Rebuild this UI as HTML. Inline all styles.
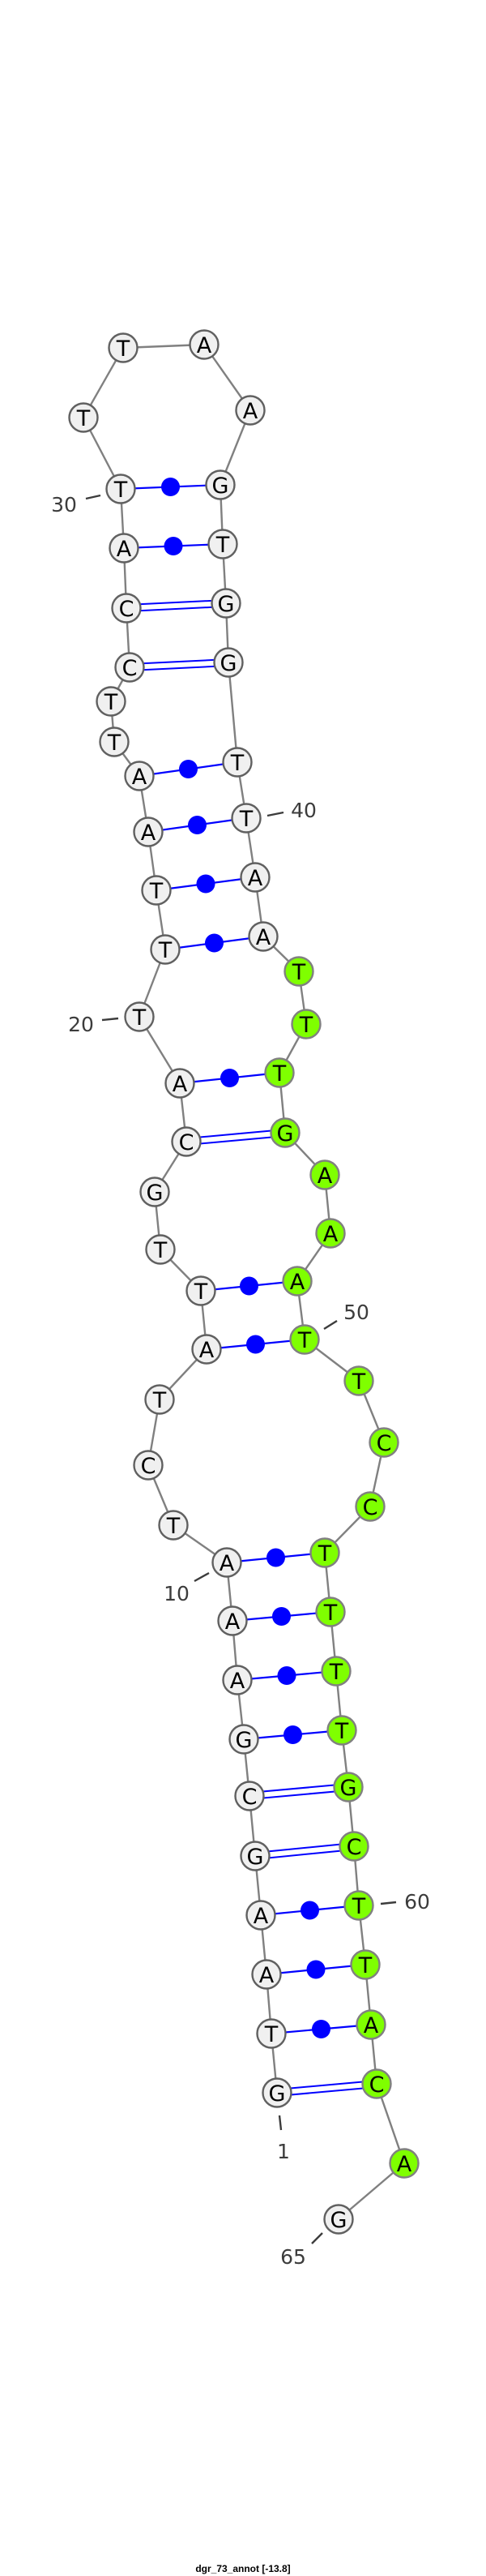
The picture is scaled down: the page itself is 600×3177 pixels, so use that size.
<!DOCTYPE html>
<html><head><meta charset="utf-8"><style>html,body{margin:0;padding:0;background:#fff}svg{display:block}</style></head>
<body>
<svg width="600" height="3177" viewBox="0 0 600 3177" xmlns="http://www.w3.org/2000/svg">
<g id="bb" stroke="#808080" stroke-width="2.4" fill="none"></g>
<g id="pairs"></g>
<g id="nodes"></g>
<g id="labels" font-family="'DejaVu Sans','Liberation Sans',sans-serif" font-size="25" fill="#3c3c3c"></g>
<text x="300" y="3172" text-anchor="middle" font-family="'Liberation Sans',sans-serif" font-weight="bold" font-size="12" fill="#000">dgr_73_annot [-13.8]</text>
<script>
var N=[null,
[342,2581,'G',0],[335,2508,'T',0],[329,2435,'A',0],[322,2362,'A',0],[315,2289,'G',0],[308,2215,'C',0],
[301,2145,'G',0],[293,2072,'A',0],[287,1999,'A',0],[280,1927,'A',0],[214,1881,'T',0],[183,1807,'C',0],
[197,1726,'T',0],[255,1664,'A',0],[248,1592,'T',0],[198,1541,'T',0],[191,1470,'G',0],[230,1408,'C',0],
[222,1336,'A',0],[172,1254,'T',0],[204,1171,'T',0],[193,1098,'T',0],[183,1026,'A',0],[172,957,'A',0],
[141,915,'T',0],[137,865,'T',0],[160,823,'C',0],[156,750,'C',0],[153,676,'A',0],[149,603,'T',0],
[103,515,'T',0],[152,429,'T',0],[252,425,'A',0],[309,506,'A',0],[272,598,'G',0],[275,671,'T',0],
[279,744,'G',0],[282,817,'G',0],[293,940,'T',0],[304,1009,'T',0],[315,1082,'A',0],[325,1155,'A',0],
[369,1198,'T',1],[378,1263,'T',1],[345,1323,'T',1],[352,1397,'G',1],[401,1449,'A',1],[408,1521,'A',1],
[367,1580,'A',1],[376,1652,'T',1],[443,1703,'T',1],[474,1779,'C',1],[457,1858,'C',1],[401,1915,'T',1],
[408,1988,'T',1],[415,2061,'T',1],[422,2134,'T',1],[430,2204,'G',1],[437,2277,'C',1],[443,2350,'T',1],
[451,2423,'T',1],[458,2497,'A',1],[465,2570,'C',1],[499,2668,'A',1],[418,2737,'G',1]];
N[65][3]=0;
var P=[[1,63,2],[2,62,1],[3,61,1],[4,60,1],[5,59,2],[6,58,2],[7,57,1],[8,56,1],[9,55,1],[10,54,1],
[14,50,1],[15,49,1],[18,46,2],[19,45,1],[21,42,1],[22,41,1],[23,40,1],[24,39,1],[27,38,2],[28,37,2],[29,36,1],[30,35,1]];
var ns='http://www.w3.org/2000/svg';
function el(p,t,a,txt){var e=document.createElementNS(ns,t);for(var k in a)e.setAttribute(k,a[k]);if(txt)e.textContent=txt;document.getElementById(p).appendChild(e);return e;}
for(var i=1;i<65;i++)el('bb','line',{x1:N[i][0],y1:N[i][1],x2:N[i+1][0],y2:N[i+1][1]});
P.forEach(function(p){var a=N[p[0]],b=N[p[1]];
 if(p[2]==1){el('pairs','line',{x1:a[0],y1:a[1],x2:b[0],y2:b[1],stroke:'#0000ff','stroke-width':2.2});
  el('pairs','circle',{cx:(a[0]+b[0])/2,cy:(a[1]+b[1])/2,r:11.5,fill:'#0000ff'});}
 else{var dx=b[0]-a[0],dy=b[1]-a[1],L=Math.hypot(dx,dy),nx=-dy/L*4,ny=dx/L*4;
  [1,-1].forEach(function(s){el('pairs','line',{x1:a[0]+s*nx,y1:a[1]+s*ny,x2:b[0]+s*nx,y2:b[1]+s*ny,stroke:'#0000ff','stroke-width':2});});}});
for(var i=1;i<=65;i++){var n=N[i];
 el('nodes','circle',{cx:n[0],cy:n[1],r:17.5,fill:n[3]?'#7fff00':'#f0f0f0',stroke:n[3]?'#808080':'#606060','stroke-width':2.4});
 el('nodes','text',{x:n[0],y:n[1]+10,'text-anchor':'middle','font-family':"'DejaVu Sans','Liberation Sans',sans-serif",'font-size':27,fill:'#000'},n[2]);}
var Lb=[['30',79,631,106,615,124,611],['40',375,1008,330,1006,350,1002],['20',100,1272,126,1258,146,1256],
['50',440,1627,400,1639,416,1629],['10',218,1974,240,1950,258,1940],['60',515,2354,470,2348,489,2346],
['1',350,2662,345,2609,347,2627],['65',362,2792,385,2767,398,2754]];
Lb.forEach(function(l){el('labels','text',{x:l[1],y:l[2],'text-anchor':'middle'},l[0]);
 el('labels','line',{x1:l[3],y1:l[4],x2:l[5],y2:l[6],stroke:'#3c3c3c','stroke-width':2.4});});
</script>
</svg>
</body></html>
